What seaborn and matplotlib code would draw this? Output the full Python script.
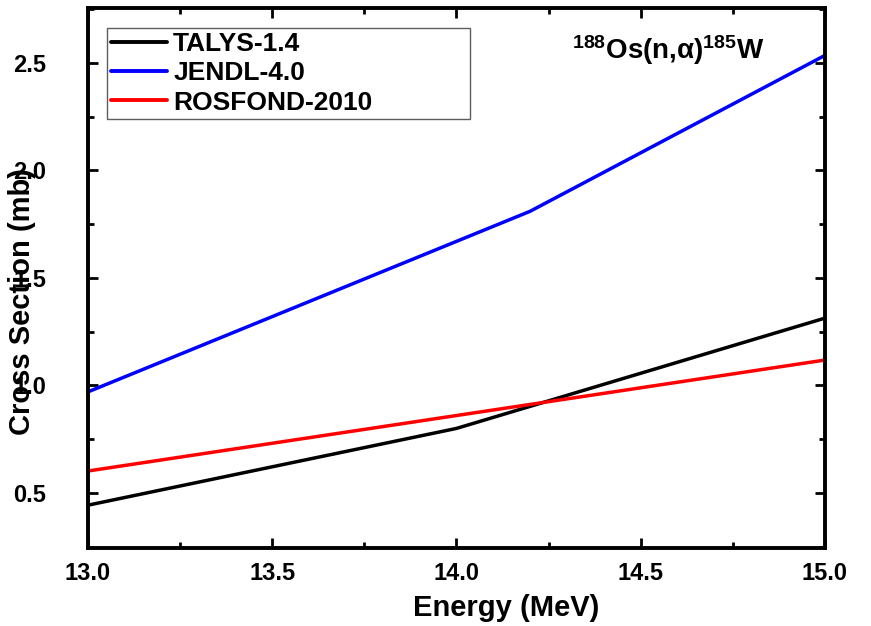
import matplotlib
matplotlib.use('Agg')
import matplotlib.pyplot as plt
import pandas as pd
import seaborn as sns
from matplotlib.ticker import MultipleLocator

# cross sections
talys_e = [13.0, 14.0, 15.0]
talys_xs = [0.443, 0.80, 1.313]
jendl_e = [13.0, 14.2, 15.0]
jendl_xs = [0.97, 1.81, 2.535]
rosfond_e = [13.0, 15.0]
rosfond_xs = [0.602, 1.118]

series = ['TALYS-1.4', 'JENDL-4.0', 'ROSFOND-2010']
colors = {'TALYS-1.4': 'black', 'JENDL-4.0': '#0000ff', 'ROSFOND-2010': '#ff0000'}

df = pd.concat([
    pd.DataFrame({'E': talys_e, 'xs': talys_xs, 'lib': 'TALYS-1.4'}),
    pd.DataFrame({'E': jendl_e, 'xs': jendl_xs, 'lib': 'JENDL-4.0'}),
    pd.DataFrame({'E': rosfond_e, 'xs': rosfond_xs, 'lib': 'ROSFOND-2010'}),
], ignore_index=True)

sns.set_style('ticks', {'axes.edgecolor': 'black', 'xtick.color': 'black',
                        'ytick.color': 'black', 'text.color': 'black',
                        'axes.labelcolor': 'black'})
plt.rcParams['font.family'] = ['Liberation Sans', 'DejaVu Sans']
plt.rcParams['font.weight'] = 'bold'
plt.rcParams['axes.labelweight'] = 'bold'
plt.rcParams['mathtext.fontset'] = 'custom'
plt.rcParams['mathtext.rm'] = 'Liberation Sans:bold'
plt.rcParams['mathtext.bf'] = 'Liberation Sans:bold'
plt.rcParams['mathtext.it'] = 'Liberation Sans:bold:italic'

fig = plt.figure(figsize=(8.71, 6.26), dpi=100)
ax = fig.add_axes([0.101, 0.125, 0.846, 0.862])

sns.lineplot(data=df, x='E', y='xs', hue='lib', hue_order=series,
             palette=colors, sort=False, linewidth=2.5, ax=ax)

ax.set_xlim(13.0, 15.0)
ax.set_ylim(0.245, 2.755)
ax.xaxis.set_major_locator(MultipleLocator(0.5))
ax.xaxis.set_minor_locator(MultipleLocator(0.25))
ax.yaxis.set_major_locator(MultipleLocator(0.5))
ax.yaxis.set_minor_locator(MultipleLocator(0.25))
ax.xaxis.set_major_formatter(plt.FormatStrFormatter('%.1f'))
ax.yaxis.set_major_formatter(plt.FormatStrFormatter('%.1f'))

for s in ax.spines.values():
    s.set_visible(True)
    s.set_linewidth(2.8)
    s.set_color('black')
ax.tick_params(which='both', direction='in', top=True, right=True, width=2,
               color='black', labelcolor='black')
ax.tick_params(which='major', length=7, labelsize=17)
ax.tick_params(which='minor', length=4)
ax.tick_params(axis='x', pad=10)
ax.tick_params(axis='y', pad=30)

ax.set_xlabel('Energy (MeV)', fontsize=21, color='black')
ax.set_ylabel('Cross Section (mb)', fontsize=21, color='black')
ax.xaxis.set_label_coords(0.568, -0.085)
ax.yaxis.set_label_coords(-0.07, 0.456)

sns.move_legend(ax, 'upper left', bbox_to_anchor=(0.026, 0.78, 0.4925, 0.183),
                mode='expand', borderaxespad=0, title=None, fontsize=19,
                frameon=True, fancybox=False, edgecolor='#333333',
                handlelength=2.1, handletextpad=0.25, labelspacing=0.2,
                borderpad=0.15)
leg = ax.get_legend()
leg.get_frame().set_linewidth(1.0)
for h in leg.legend_handles:
    h.set_linewidth(2.8)
for t in leg.get_texts():
    t.set_color('black')

ax.text(0.787, 0.905, r'$^{188}$Os(n,α)$^{185}$W', transform=ax.transAxes,
        ha='center', va='baseline', fontsize=20, fontweight='bold',
        color='black')

fig.savefig('out.png', dpi=100)
